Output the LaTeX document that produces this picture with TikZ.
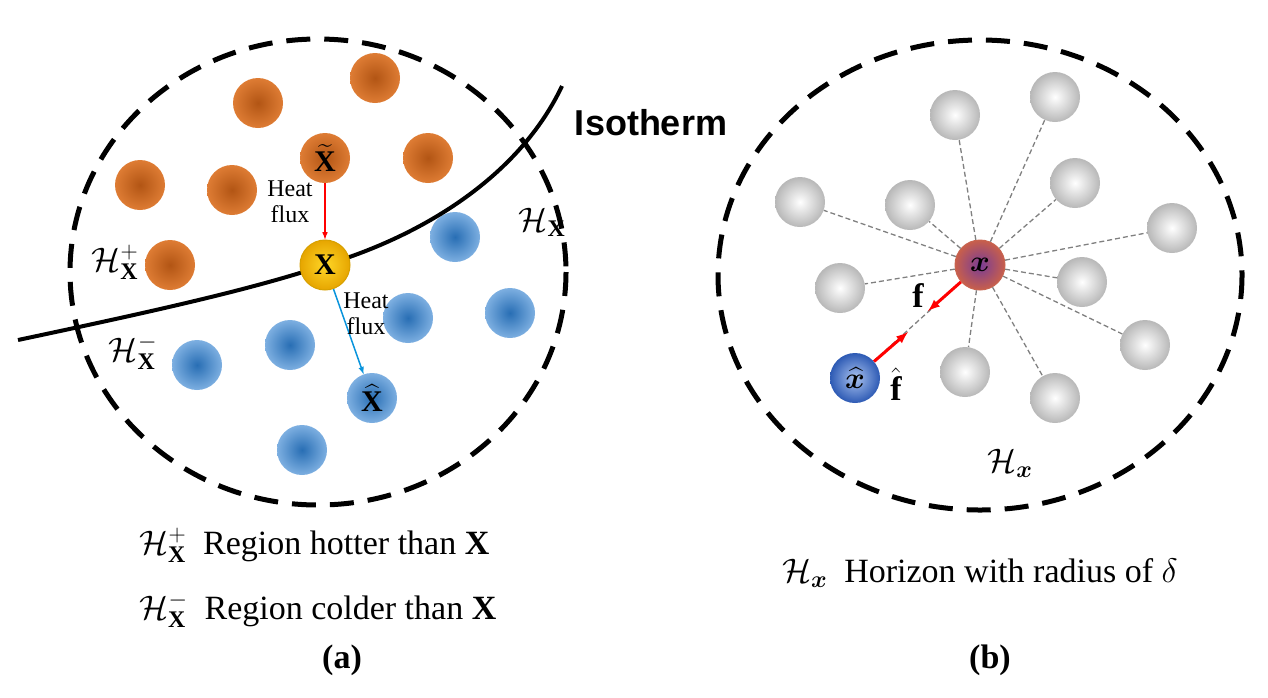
\documentclass[tikz,border=0pt]{standalone}
\usepackage{fix-cm}
\usepackage{amsmath,bm}
\usepackage{fontspec}
\setmainfont{Liberation Serif}
\newfontfamily\sansb{Liberation Sans}
\begin{document}
\begin{tikzpicture}[x=1pt,y=-1pt,
  hb/.style={dash pattern=on 24pt off 14pt, line width=5pt},
  org/.style={circle,minimum size=50pt,inner sep=0pt,inner color={rgb,255:red,178;green,85;blue,20},outer color={rgb,255:red,222;green,124;blue,52}},
  blu/.style={circle,minimum size=50pt,inner sep=0pt,inner color={rgb,255:red,40;green,110;blue,180},outer color={rgb,255:red,125;green,175;blue,225}},
  gry/.style={circle,minimum size=50pt,inner sep=0pt,inner color=white,outer color=black!28},
  lk/.style={dash pattern=on 5pt off 3pt,gray,line width=1.3pt},
  big/.style={font=\fontsize{34}{40}\selectfont},
  bf/.style={font=\fontsize{30}{32}\selectfont},
  sm/.style={font=\fontsize{24}{26}\selectfont,align=center}]
\useasboundingbox (0,0) rectangle (1268,697);
% left
\draw[hb] (318,272) ellipse [x radius=248, y radius=233];
\foreach \p [count=\i] in {(258,103),(375,78),(428,158),(140,185),(232,190),(170,265)} \node[org] (o\i) at \p {};
\node[org,bf] (xt) at (325,158) {$\widetilde{\mathbf{X}}$};
\foreach \p [count=\i] in {(455,237),(510,313),(408,318),(290,345),(197,365),(302,450)} \node[blu] (b\i) at \p {};
\node[blu,bf] (xh) at (372,398) {$\widehat{\mathbf{X}}$};
\draw[line width=4pt] (18,340) .. controls (150,312) and (250,290) .. (325,265) .. controls (425,235) and (520,175) .. (562,86);
\node[circle,minimum size=50pt,inner sep=0pt,draw={rgb,255:red,215;green,160;blue,0},line width=1pt,inner color={rgb,255:red,255;green,215;blue,40},outer color={rgb,255:red,230;green,165;blue,0},bf] (X) at (325,265) {$\mathbf{X}$};
\draw[-latex,red,line width=1.5pt] (xt) -- (X);
\draw[-latex,cyan!80!blue,line width=1.5pt] (X) -- (xh);
\node[sm] (t1) at (290,202) {Heat\\flux};
\node[sm] (t2) at (366,314) {Heat\\flux};
\node[big] (hp) at (115,262) {$\mathcal{H}_{\mathbf{X}}^{+}$};
\node[big] (hm) at (133,352) {$\mathcal{H}_{\mathbf{X}}^{-}$};
\node[big] (hx) at (542,222) {$\mathcal{H}_{\mathbf{X}}$};
\node[font=\sansb\bfseries\fontsize{36}{40}\selectfont] (iso) at (651,123) {Isotherm};
\node[big,anchor=west] (l1) at (136,545) {$\mathcal{H}_{\mathbf{X}}^{+}$\ \ Region hotter than $\mathbf{X}$};
\node[big,anchor=west] (l2) at (136,610) {$\mathcal{H}_{\mathbf{X}}^{-}$\ \ Region colder than $\mathbf{X}$};
\node[big] (a) at (342,660) {\textbf{(a)}};
% right
\draw[hb] (980,275) ellipse [x radius=262, y radius=235];
\node[circle,minimum size=50pt,inner sep=0pt,draw={rgb,255:red,200;green,100;blue,80},line width=1pt,inner color={rgb,255:red,120;green,60;blue,150},outer color={rgb,255:red,200;green,95;blue,75},bf] (c) at (980,265) {$\bm{x}$};
\foreach \p [count=\i] in {(955,115),(1055,97),(800,202),(910,205),(1075,183),(1172,228),(840,288),(1082,282),(1145,345),(965,372),(1055,398)} {\node[gry] (g\i) at \p {}; \draw[lk] (c) -- (g\i);}
\node[circle,minimum size=50pt,inner sep=0pt,inner color={rgb,255:red,170;green,195;blue,240},outer color={rgb,255:red,45;green,90;blue,180},bf] (xr) at (855,378) {$\widehat{\bm{x}}$};
\draw[lk] (xr) -- (c);
\draw[-latex,red,line width=3pt] (c) -- (928,311);
\draw[-latex,red,line width=3pt] (xr) -- (908,332);
\node[big] (f) at (918,296) {$\mathbf{f}$};
\node[big] (fh) at (896,384) {$\hat{\mathbf{f}}$};
\node[big] (hr) at (1010,463) {$\mathcal{H}_{\bm{x}}$};
\node[big] (l3) at (980,573) {$\mathcal{H}_{\bm{x}}$\ \ Horizon with radius of $\delta$};
\node[big] (b) at (990,660) {\textbf{(b)}};
\end{tikzpicture}
\end{document}
